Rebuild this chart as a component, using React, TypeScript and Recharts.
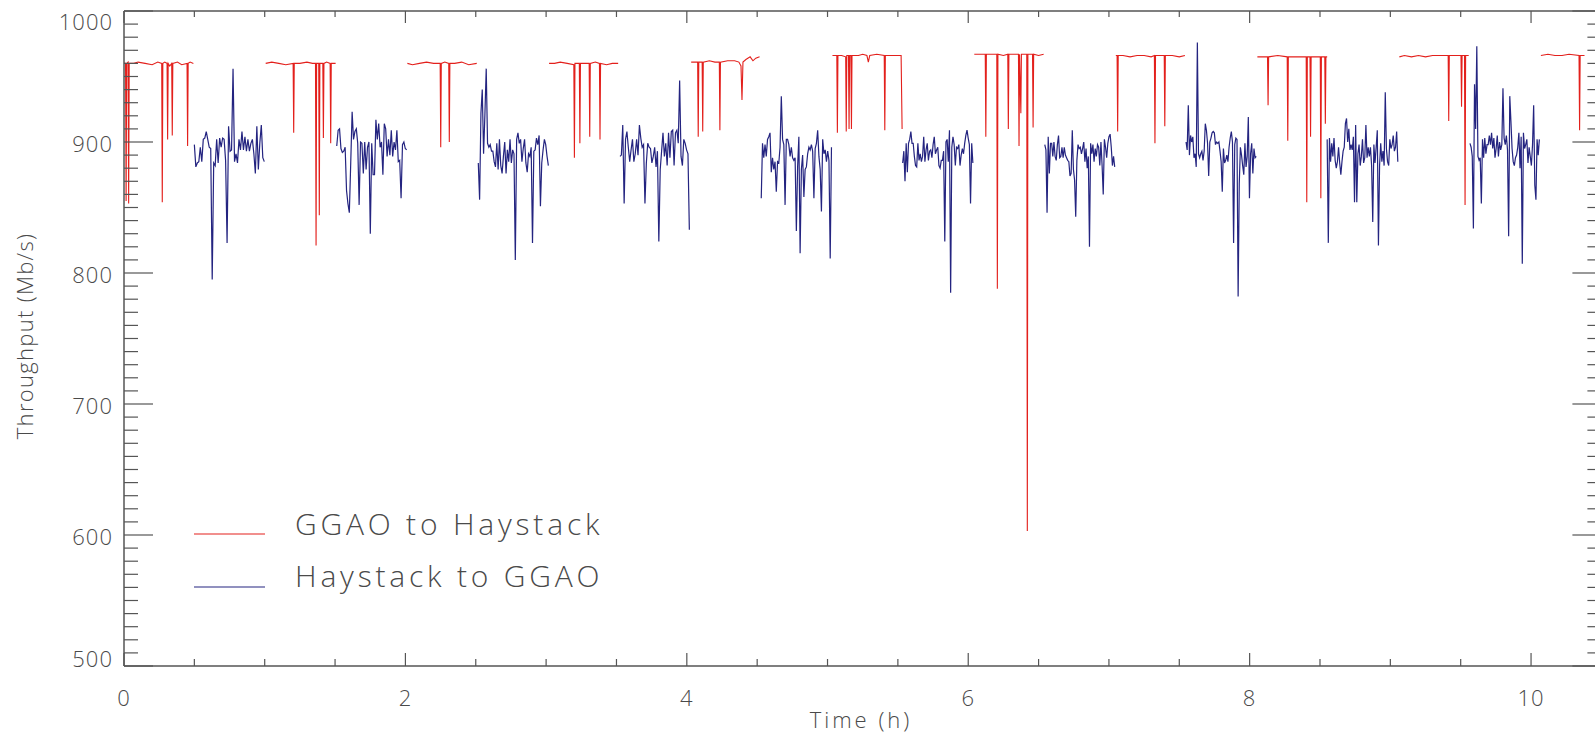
import React from 'react';
import { LineChart, Line, XAxis, YAxis } from 'recharts';

// ---------- Data (hours, Mb/s) ----------
// GGAO to Haystack: [time h, throughput]
const redSeg0: [number, number][] = [[0,960],[0.011,960],[0.015,855],[0.019,960],[0.029,961],[0.033,853],[0.037,960],[0.07,960],[0.1,961],[0.15,960],[0.2,959],[0.24,961],[0.268,960],[0.272,854],[0.276,960],[0.29,961],[0.306,960],[0.31,902],[0.314,960],[0.325,958],[0.339,960],[0.343,905],[0.347,960],[0.38,961],[0.41,959],[0.448,960],[0.452,897],[0.456,960],[0.47,961],[0.493,960]];
const redSeg1: [number, number][] = [[1.007,960],[1.05,961],[1.1,960],[1.15,959],[1.202,960],[1.206,907],[1.21,960],[1.25,960],[1.3,961],[1.34,960],[1.361,960],[1.365,821],[1.369,960],[1.384,960],[1.388,844],[1.392,960],[1.413,960],[1.417,903],[1.421,960],[1.44,961],[1.465,960],[1.469,899],[1.473,960],[1.504,960]];
const redSeg2: [number, number][] = [[2.014,960],[2.05,959],[2.1,960],[2.15,961],[2.2,960],[2.247,960],[2.251,896],[2.255,960],[2.28,961],[2.308,960],[2.312,900],[2.316,960],[2.35,960],[2.4,961],[2.45,959],[2.507,960]];
const redSeg3: [number, number][] = [[3.021,960],[3.06,960],[3.1,961],[3.15,960],[3.197,959],[3.201,888],[3.205,960],[3.236,960],[3.24,899],[3.244,960],[3.28,960],[3.306,960],[3.31,904],[3.314,960],[3.35,961],[3.379,960],[3.383,902],[3.387,960],[3.43,959],[3.47,960],[3.512,960]];
const redSeg4: [number, number][] = [[4.031,961],[4.05,961],[4.077,961],[4.081,904],[4.085,961],[4.109,961],[4.113,908],[4.117,961],[4.16,962],[4.2,961],[4.231,961],[4.235,909],[4.239,961],[4.29,962],[4.34,962],[4.37,961],[4.385,958],[4.392,932],[4.399,961],[4.42,963],[4.45,965],[4.47,962],[4.49,964],[4.517,965]];
const redSeg5: [number, number][] = [[5.035,966],[5.066,966],[5.07,907],[5.074,966],[5.1,966],[5.129,965],[5.133,908],[5.137,966],[5.149,966],[5.153,910],[5.157,966],[5.166,966],[5.17,910],[5.174,966],[5.22,966],[5.25,967],[5.28,966],[5.29,961],[5.3,966],[5.35,967],[5.403,966],[5.407,909],[5.411,966],[5.45,966],[5.5,966],[5.523,966],[5.53,910]];
const redSeg6: [number, number][] = [[6.043,967],[6.08,967],[6.121,967],[6.125,904],[6.129,967],[6.16,967],[6.203,967],[6.207,788],[6.211,967],[6.25,966],[6.281,967],[6.285,910],[6.289,967],[6.32,967],[6.357,967],[6.361,897],[6.365,967],[6.374,922],[6.378,967],[6.416,967],[6.42,603],[6.424,967],[6.44,967],[6.457,967],[6.461,911],[6.465,967],[6.5,966],[6.536,967]];
const redSeg7: [number, number][] = [[7.049,966],[7.058,966],[7.062,908],[7.066,966],[7.1,966],[7.15,965],[7.2,966],[7.25,966],[7.3,965],[7.323,966],[7.327,899],[7.331,966],[7.36,966],[7.393,966],[7.397,912],[7.401,966],[7.45,966],[7.5,965],[7.54,966]];
const redSeg8: [number, number][] = [[8.055,965],[8.1,965],[8.127,965],[8.131,928],[8.135,965],[8.2,966],[8.267,965],[8.271,901],[8.275,965],[8.33,965],[8.38,965],[8.402,965],[8.406,854],[8.41,965],[8.429,965],[8.433,904],[8.437,965],[8.47,965],[8.502,965],[8.506,857],[8.51,965],[8.534,965],[8.538,914],[8.542,965],[8.551,965]];
const redSeg9: [number, number][] = [[9.064,965],[9.1,966],[9.15,965],[9.2,966],[9.25,965],[9.3,966],[9.35,966],[9.411,966],[9.415,916],[9.419,966],[9.46,966],[9.502,966],[9.506,927],[9.51,966],[9.527,966],[9.531,852],[9.535,966],[9.557,966]];
const redSeg10: [number, number][] = [[10.07,966],[10.12,967],[10.17,966],[10.22,966],[10.27,967],[10.341,966],[10.345,909],[10.349,966],[10.38,966]];

// Haystack to GGAO: each segment sampled evenly between its start and end time
const blueStart = [0.5, 1.512, 2.518, 3.525, 4.529, 5.534, 6.544, 7.548, 8.551, 9.566];
const blueEnd = [0.997, 2.009, 3.016, 4.018, 5.028, 6.033, 7.041, 8.047, 9.053, 10.059];
const blueSeg0 = [898,881,884,885,896,885,902,903,908,902,896,895,795,884,882,902,884,903,896,903,902,886,823,912,893,894,956,885,891,884,902,894,908,894,904,893,902,893,899,902,891,876,912,879,899,913,888,885];
const blueSeg1 = [897,909,910,895,892,893,896,863,853,846,884,923,902,908,910,899,852,900,899,876,900,879,896,900,830,899,875,875,917,902,914,896,900,875,914,910,889,902,890,909,889,900,894,909,885,886,857,898,900,895,894];
const blueSeg2 = [884,856,922,940,891,921,956,899,896,898,893,893,885,881,899,879,902,882,876,889,900,876,894,885,902,884,894,891,810,902,907,899,902,885,895,902,884,877,891,889,896,823,893,894,903,898,905,851,884,894,902,898,889,882];
const blueSeg3 = [889,890,913,853,902,908,896,885,894,902,885,891,902,890,913,903,896,898,853,884,899,896,895,884,889,896,881,893,824,879,893,907,889,899,882,907,888,908,909,882,907,909,899,947,889,882,902,899,894,891,833];
const blueSeg4 = [857,899,888,898,889,902,904,907,877,888,879,885,862,885,884,896,935,902,898,852,902,902,898,889,896,888,886,888,832,881,904,815,879,890,858,879,881,891,896,894,898,893,857,895,899,909,889,879,847,902,891,894,885,893,886,811,896];
const blueSeg5 = [884,893,870,899,877,899,902,908,899,899,889,882,881,899,886,891,885,889,904,885,894,899,886,893,894,888,898,904,891,894,896,882,880,886,886,893,824,900,902,885,909,785,896,904,898,882,896,895,898,882,890,895,891,899,905,909,903,898,853,899,884];
const blueSeg6 = [898,894,846,904,876,899,899,889,900,889,886,898,905,888,889,896,888,896,890,888,886,885,874,876,909,879,871,843,886,898,895,896,891,895,900,885,895,880,889,820,899,891,898,885,895,889,898,896,882,900,882,860,902,896,888,899,904,906,896,882,889,881];
const blueSeg7 = [900,894,928,890,905,900,904,888,891,881,976,891,888,891,893,886,893,914,909,899,874,900,903,907,908,907,898,900,899,900,893,885,862,895,884,886,890,885,896,903,908,900,823,898,903,902,782,868,896,890,882,875,899,881,889,919,857,891,899,876,895,888,889];
const blueSeg8 = [902,823,903,885,899,889,903,886,880,885,896,884,875,885,893,896,914,918,900,910,894,898,894,904,854,913,854,891,898,882,889,902,884,888,913,888,896,889,896,882,839,898,884,896,909,821,882,899,885,893,882,938,895,885,882,902,895,898,905,893,896,908,885];
const blueSeg9 = [899,896,889,834,944,910,973,889,886,888,853,902,888,903,891,898,898,905,898,907,895,903,888,895,905,889,900,894,898,941,903,898,905,894,828,935,916,895,885,882,888,890,896,907,880,904,807,907,895,898,902,884,896,889,882,898,928,867,856,902,890,902];

const redSegments = [redSeg0, redSeg1, redSeg2, redSeg3, redSeg4, redSeg5, redSeg6, redSeg7, redSeg8, redSeg9, redSeg10];
const blueSegments = [blueSeg0, blueSeg1, blueSeg2, blueSeg3, blueSeg4, blueSeg5, blueSeg6, blueSeg7, blueSeg8, blueSeg9];

const xTicks = [0,0.5,1,1.5,2,2.5,3,3.5,4,4.5,5,5.5,6,6.5,7,7.5,8,8.5,9,9.5,10,10.5];
const xMajor = [0,2,4,6,8,10];
const yMajor = [500,600,700,800,900,1000];
const yTicks = Array.from({ length: 51 }, (_, i) => 500 + i * 10);

const seriesNames = ['GGAO to Haystack', 'Haystack to GGAO'];
const RED = '#e3201c';
const BLUE = '#242480';
const AXIS = '#555';
const TEXT = '#4a4a4a';
const FONT = "'Open Sans', 'DejaVu Sans', sans-serif";

type Row = { t: number; red?: number; blue?: number };
const rows: Row[] = [];
redSegments.forEach((seg) => seg.forEach(([t, v]) => rows.push({ t, red: v })));
blueSegments.forEach((vals, s) => {
  const n = vals.length;
  vals.forEach((v, i) => {
    rows.push({ t: blueStart[s] + (i * (blueEnd[s] - blueStart[s])) / (n - 1), blue: v });
  });
});
rows.sort((a, b) => a.t - b.t);

const isMajorX = (v: number) => xMajor.includes(v);
const isMajorY = (v: number) => yMajor.includes(v);

const BottomTick = (props: any) => {
  const { x, y, payload } = props;
  const v = payload.value;
  const major = isMajorX(v);
  return (
    <g>
      <line x1={x} x2={x} y1={y} y2={y - (major ? 13 : 7)} stroke={AXIS} strokeWidth={1.2} />
      {major && (
        <text x={x} y={y + 40} textAnchor="middle" fill={TEXT} fontFamily={FONT} fontWeight={300} fontSize={22} letterSpacing={1}>
          {v}
        </text>
      )}
    </g>
  );
};

const TopTick = (props: any) => {
  const { x, y, payload } = props;
  const major = isMajorX(payload.value);
  return <line x1={x} x2={x} y1={y} y2={y + (major ? 12 : 6)} stroke={AXIS} strokeWidth={1.2} />;
};

const LeftTick = (props: any) => {
  const { x, y, payload } = props;
  const v = payload.value;
  const major = isMajorY(v);
  // end labels are nudged inside the axis range
  const shift = v === yMajor[yMajor.length - 1] ? 9 : v === yMajor[0] ? -9 : 0;
  return (
    <g>
      <line x1={x} x2={x + (major ? 29 : 14)} y1={y} y2={y} stroke={AXIS} strokeWidth={1.2} />
      {major && (
        <text x={x - 11} y={y + 10 + shift} textAnchor="end" fill={TEXT} fontFamily={FONT} fontWeight={300} fontSize={22} letterSpacing={1}>
          {v}
        </text>
      )}
    </g>
  );
};

const RightTick = (props: any) => {
  const { x, y, payload } = props;
  const major = isMajorY(payload.value);
  return <line x1={x} x2={x - (major ? 29 : 14)} y1={y} y2={y} stroke={AXIS} strokeWidth={1.2} />;
};

export default function App() {
  return (
    <div style={{ position: 'absolute', left: 0, top: 0, width: 1595, height: 741, overflow: 'hidden', background: '#fff' }}>
      <LineChart width={1610} height={741} data={rows} margin={{ top: 10, right: 7.6, bottom: 0, left: 0 }}>
        <XAxis
          dataKey="t"
          type="number"
          domain={[0, 10.5]}
          ticks={xTicks}
          interval={0}
          height={75}
          tickSize={0}
          tickMargin={0}
          tickLine={false}
          tick={<BottomTick />}
          axisLine={{ stroke: AXIS, strokeWidth: 1.5 }}
          allowDataOverflow
        />
        <XAxis
          xAxisId="top"
          orientation="top"
          dataKey="t"
          type="number"
          domain={[0, 10.5]}
          ticks={xTicks}
          interval={0}
          height={1}
          tickSize={0}
          tickMargin={0}
          tickLine={false}
          tick={<TopTick />}
          axisLine={{ stroke: AXIS, strokeWidth: 1.5 }}
          allowDataOverflow
        />
        <YAxis
          type="number"
          domain={[500, 1000]}
          ticks={yTicks}
          interval={0}
          width={124}
          tickSize={0}
          tickMargin={0}
          tickLine={false}
          tick={<LeftTick />}
          axisLine={{ stroke: AXIS, strokeWidth: 1.5 }}
          allowDataOverflow
        />
        <YAxis
          yAxisId="right"
          orientation="right"
          type="number"
          domain={[500, 1000]}
          ticks={yTicks}
          interval={0}
          width={1}
          tickSize={0}
          tickMargin={0}
          tickLine={false}
          tick={<RightTick />}
          axisLine={{ stroke: AXIS, strokeWidth: 1.5 }}
          allowDataOverflow
        />
        <Line dataKey="red" name={seriesNames[0]} stroke={RED} strokeWidth={1.1} dot={false} activeDot={false} connectNulls={false} isAnimationActive={false} type="linear" />
        <Line yAxisId="right" dataKey="blue" name={seriesNames[1]} stroke={BLUE} strokeWidth={1.2} dot={false} activeDot={false} connectNulls={false} isAnimationActive={false} type="linear" />
      </LineChart>
      <svg width={1595} height={741} style={{ position: 'absolute', left: 0, top: 0, pointerEvents: 'none' }}>
        <text x={861} y={728} textAnchor="middle" fill={TEXT} fontFamily={FONT} fontWeight={300} fontSize={22} letterSpacing={3}>
          Time (h)
        </text>
        <text x={0} y={0} transform="translate(33,336) rotate(-90)" textAnchor="middle" fill={TEXT} fontFamily={FONT} fontWeight={300} fontSize={22} letterSpacing={1.3}>
          Throughput (Mb/s)
        </text>
        <line x1={194} x2={265} y1={534} y2={534} stroke={RED} strokeWidth={1.2} />
        <text x={295} y={535} fill={TEXT} fontFamily={FONT} fontWeight={300} fontSize={30} letterSpacing={3.8}>
          {seriesNames[0]}
        </text>
        <line x1={194} x2={265} y1={587} y2={587} stroke={BLUE} strokeWidth={1.2} />
        <text x={295} y={587} fill={TEXT} fontFamily={FONT} fontWeight={300} fontSize={30} letterSpacing={3.8}>
          {seriesNames[1]}
        </text>
      </svg>
    </div>
  );
}
